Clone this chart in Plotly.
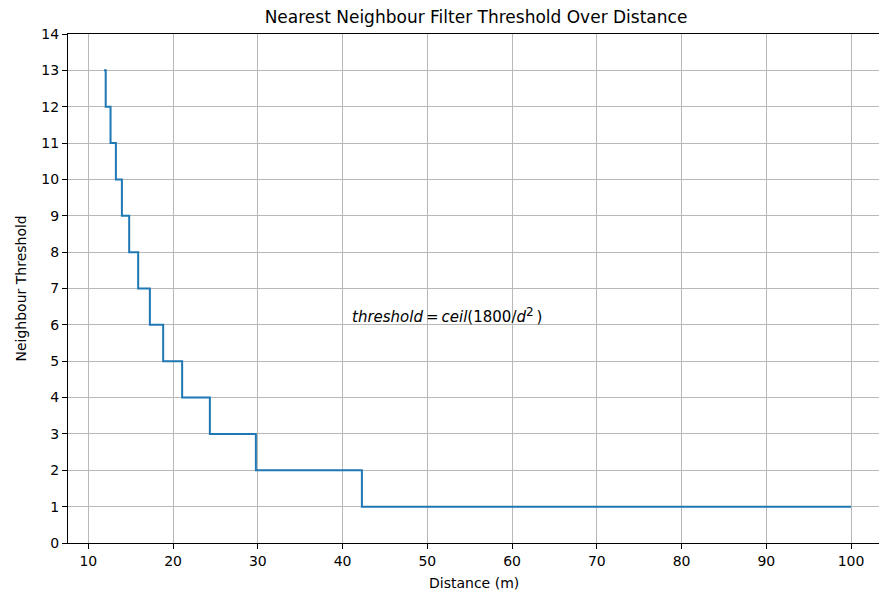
import plotly.graph_objects as go

# Step breakpoints (distance in m, threshold value)
distance = [11.85, 12.05, 12.62, 13.25, 13.96, 14.82, 15.88, 17.26, 18.83, 21.07, 24.34, 29.77, 42.28, 100.0]
threshold = [13, 12, 11, 10, 9, 8, 7, 6, 5, 4, 3, 2, 1, 1]

x_ticks = [10, 20, 30, 40, 50, 60, 70, 80, 90, 100]
y_ticks = list(range(0, 15))

title_text = "Nearest Neighbour Filter Threshold Over Distance"
x_title = "Distance (m)"
y_title = "Neighbour Threshold"
formula_text = ("<i>threshold</i>&#8201;=&#8201;<i>ceil</i>(1800/<i>d</i>"
                "<sup><span style='font-size:12px'>2</span></sup>&#8201;)")

FONT = "DejaVu Sans"
W, H = 879, 595
L, R, T, B = 68, 0, 34, 52
pw, ph = W - L - R, H - T - B

def px_x(p):
    return (p - L) / pw

def px_y(p):
    return (H - B - p) / ph

fig = go.Figure()
fig.add_trace(go.Scatter(
    x=distance, y=threshold, mode="lines",
    line=dict(color="#1f77b4", width=2, shape="hv"),
    hoverinfo="skip", showlegend=False,
))

axis_common = dict(
    showgrid=True, gridcolor="#b8b8b8", gridwidth=0.8,
    zeroline=False, showline=True, linecolor="black", linewidth=1,
    ticks="outside", ticklen=5, tickwidth=1, tickcolor="black",
    tickfont=dict(family=FONT, size=14, color="black"),
)

fig.update_layout(
    width=W, height=H,
    margin=dict(l=L, r=R, t=T, b=B),
    paper_bgcolor="white", plot_bgcolor="white",
    font=dict(family=FONT, color="black"),
    title=dict(text=title_text, x=px_x(476), xref="paper", xanchor="center",
               y=1 - 17 / H, yref="container", yanchor="middle",
               font=dict(family=FONT, size=17, color="black")),
    xaxis=dict(range=[7.6, 103.3], tickvals=x_ticks, mirror=True, **axis_common),
    yaxis=dict(range=[0, 14], tickvals=y_ticks, mirror=False, **axis_common),
    annotations=[
        dict(text=formula_text, x=40.9, y=6.27, xref="x", yref="y",
             xanchor="left", yanchor="middle", showarrow=False,
             font=dict(family=FONT, size=15, color="black")),
        dict(text=x_title, x=px_x(474), y=px_y(583), xref="paper", yref="paper",
             xanchor="center", yanchor="middle", showarrow=False,
             font=dict(family=FONT, size=14, color="black")),
        dict(text=y_title, x=px_x(20), y=0.5, xref="paper", yref="paper",
             xanchor="center", yanchor="middle", showarrow=False, textangle=-90,
             font=dict(family=FONT, size=14, color="black")),
    ],
)

fig.write_html("out.html")
